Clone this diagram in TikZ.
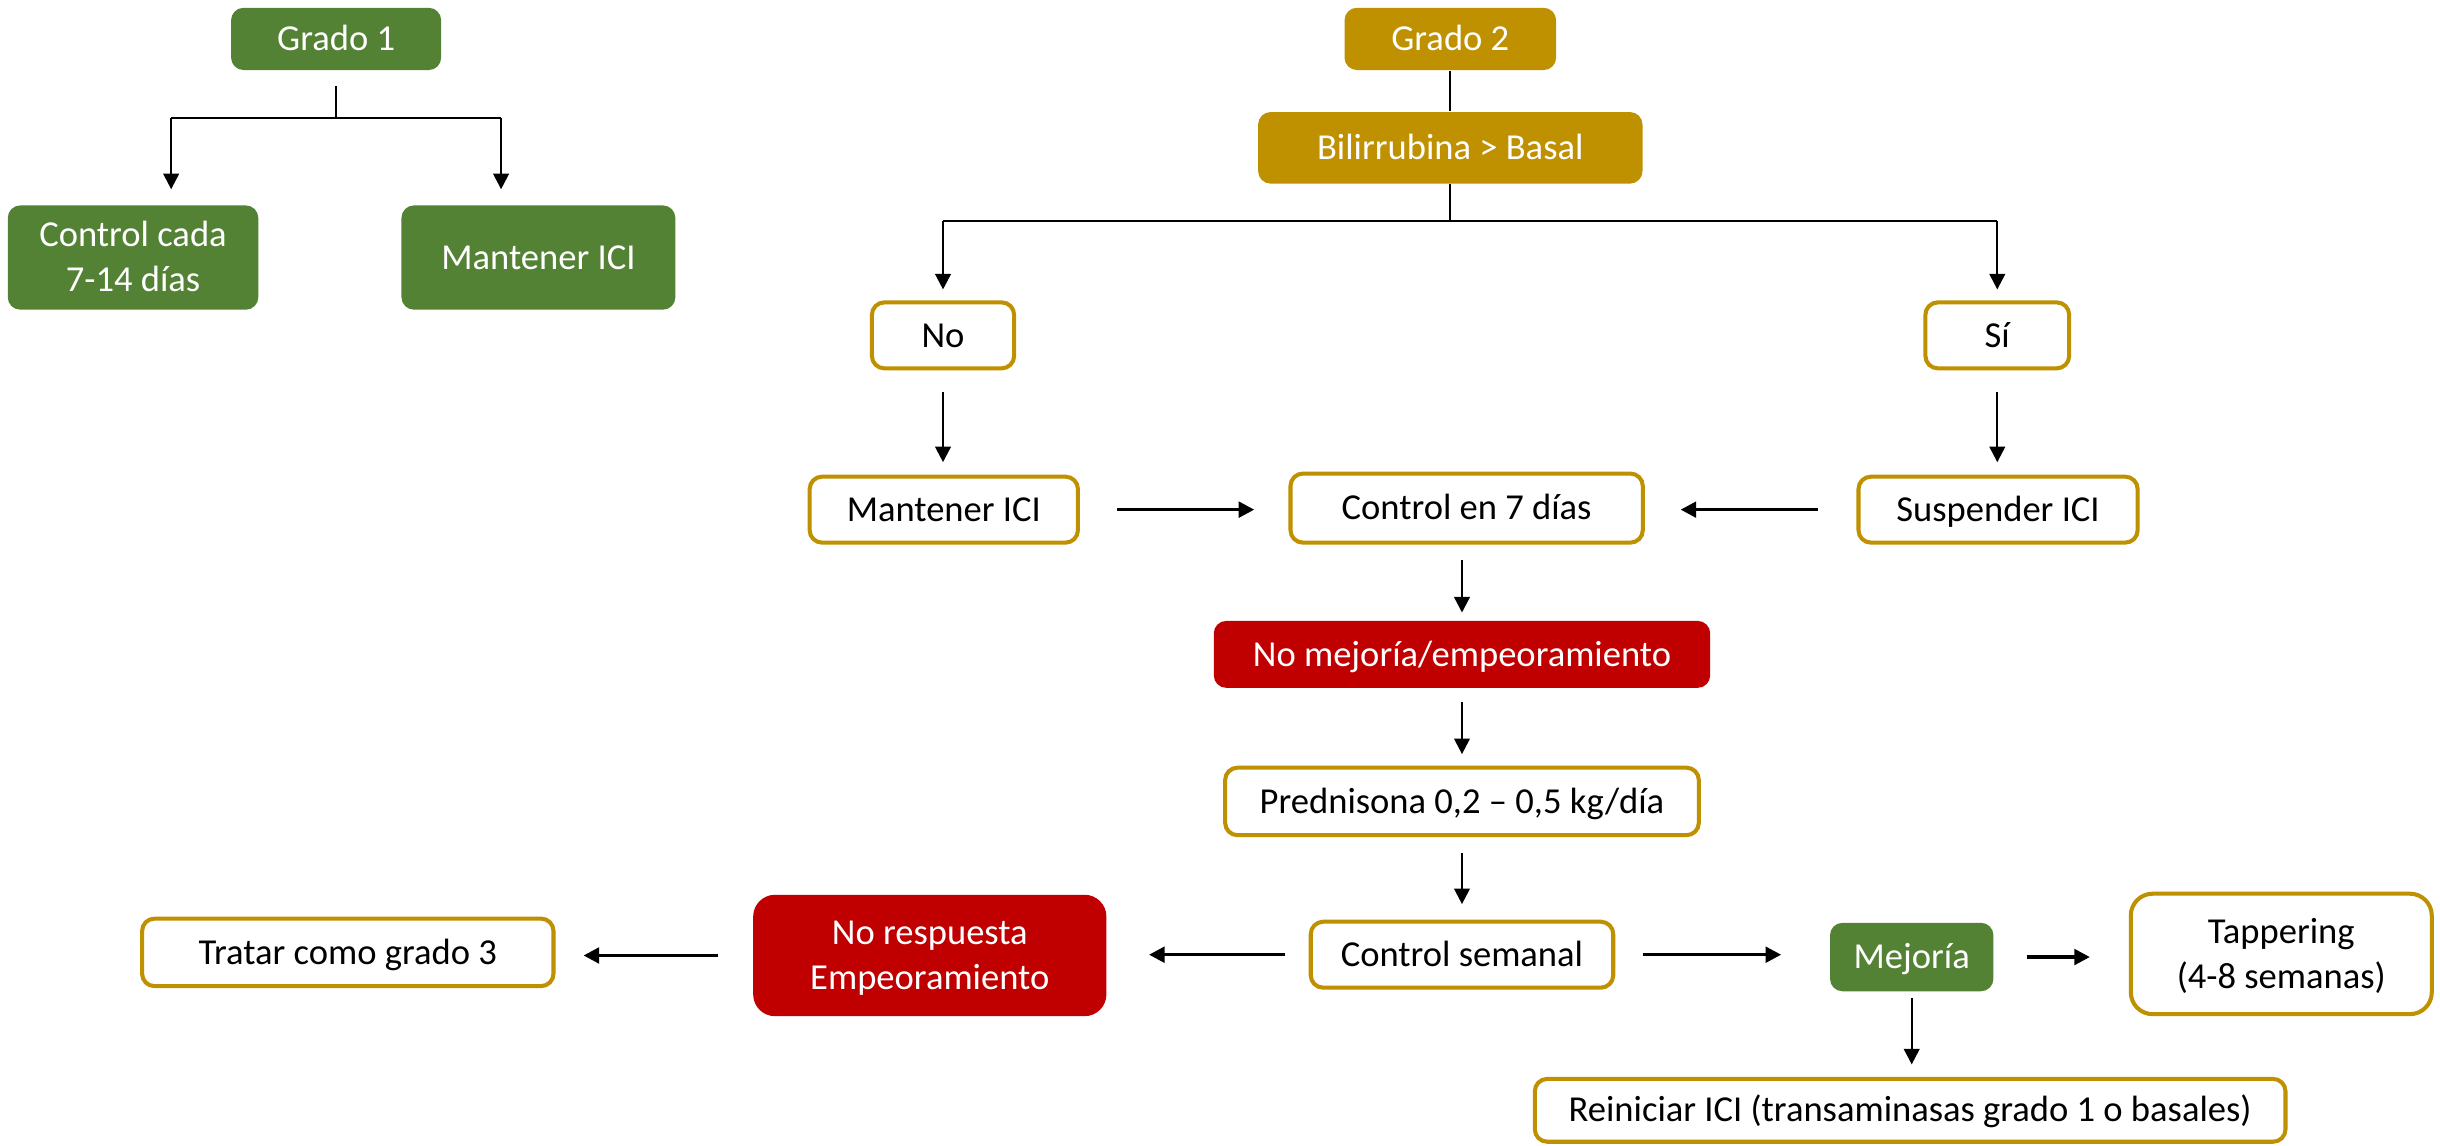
\documentclass[tikz,border=0pt]{standalone}
\usepackage{fontspec}
\setmainfont{Carlito}
\usetikzlibrary{arrows.meta,calc}
\definecolor{grn}{HTML}{548235}
\definecolor{gold}{HTML}{BF9000}
\definecolor{rd}{HTML}{C00000}

\begin{document}
\begin{tikzpicture}[x=0.5pt,y=-0.5pt,
  box/.style={rounded corners=4pt, inner sep=0pt, align=center,
    font=\fontsize{11.75}{14.5}\selectfont, text height=9.5pt, text depth=2pt},
  twoline/.style={text height=24pt, text depth=2pt},
  fillg/.style={box, fill=grn, text=white},
  fillo/.style={box, fill=gold, text=white},
  fillr/.style={box, fill=rd, text=white},
  outl/.style={box, draw=gold, line width=1.3pt, fill=white, text=black},
  tree/.style={line width=0.6pt},
  arr/.style={line width=0.75pt, -{Triangle[length=5pt,width=5pt]}},
  harr/.style={line width=1.1pt, -{Triangle[length=5pt,width=5pt]}},
]
\fill[white] (0,0) rectangle (1568,736);
\useasboundingbox (0,0) rectangle (1568,736);

% Grado 1 branch
\node[fillg, minimum width=67.5pt, minimum height=20pt] (g1) at (216,25) {Grado 1};
\node[fillg, twoline, minimum width=80.5pt, minimum height=33.5pt] (cc) at (85.5,165.5) {Control cada\\7-14 días};
\node[fillg, minimum width=88pt, minimum height=33.5pt] (mi1) at (346,165.5) {Mantener ICI};

% Grado 2 branch
\node[fillo, minimum width=68pt, minimum height=20pt] (g2) at (932,25) {Grado 2};
\node[fillo, minimum width=123.5pt, minimum height=23pt] (bili) at (932,95) {Bilirrubina > Basal};
\node[outl, minimum width=45.7pt, minimum height=21.2pt] (no) at (606,215.5) {No};
\node[outl, minimum width=46.2pt, minimum height=21.2pt] (si) at (1283.5,215.5) {Sí};
\node[outl, minimum width=86.2pt, minimum height=21.2pt] (mi2) at (606.5,327.5) {Mantener ICI};
\node[outl, minimum width=113.2pt, minimum height=22.2pt] (c7) at (942.5,326.5) {Control en 7 días};
\node[outl, minimum width=89.7pt, minimum height=21.2pt] (sus) at (1284,327.5) {Suspender ICI};
\node[fillr, minimum width=159.5pt, minimum height=21.5pt] (nm) at (939.5,420.5) {No mejoría/empeoramiento};
\node[outl, minimum width=152.2pt, minimum height=21.7pt] (pred) at (939.5,515) {Prednisona 0,2 – 0,5 kg/día};
\node[outl, minimum width=97.2pt, minimum height=21.2pt] (cs) at (939.5,613.5) {Control semanal};
\node[fillr, twoline, rounded corners=7pt, minimum width=113.5pt, minimum height=39pt] (nr) at (597.5,614) {No respuesta\\Empeoramiento};
\node[outl, minimum width=132.2pt, minimum height=21.7pt] (t3) at (223.5,612) {Tratar como grado 3};
\node[fillg, minimum width=52.5pt, minimum height=22pt] (mej) at (1228.5,615) {Mejoría};
\node[outl, twoline, rounded corners=7pt, minimum width=96.7pt, minimum height=38.7pt] (tap) at (1466,613) {Tappering\\(4-8 semanas)};
\node[outl, minimum width=241.2pt, minimum height=20.2pt] (rei) at (1227.5,713.5) {Reiniciar ICI (transaminasas grado 1 o basales)};

% Grado 1 split
\coordinate (g1j) at (216,76);
\coordinate (g1l) at (110,76);
\coordinate (g1r) at (322,76);
\draw[tree] ([yshift=-5pt]g1.south) -- (g1.south |- g1j);
\draw[tree] (g1l) -- (g1r);
\draw[arr, shorten >=5pt] (g1l) -- (g1l |- cc.north);
\draw[arr, shorten >=5pt] (g1r) -- (g1r |- mi1.north);

% Grado 2 split
\coordinate (b2j) at (932,142);
\draw[tree] (g2) -- (bili);
\draw[tree] (bili.south) -- (bili.south |- b2j);
\draw[tree] (b2j -| no.north) -- (b2j -| si.north);
\draw[arr, shorten >=3.5pt] (b2j -| no.north) -- (no.north);
\draw[arr, shorten >=3.5pt] (b2j -| si.north) -- (si.north);
\draw[arr, shorten <=7pt, shorten >=4pt] (no.south) -- (no.south |- mi2.north);
\draw[arr, shorten <=7pt, shorten >=4pt] (si.south) -- (si.south |- sus.north);

% Control flow
\draw[harr, shorten <=12pt, shorten >=11pt] (mi2.east) -- (mi2.east -| c7.west);
\draw[harr, shorten <=12.5pt, shorten >=11.5pt] (sus.west) -- (sus.west -| c7.east);
\draw[arr, shorten <=5pt, shorten >=2.5pt] (c7.south -| nm.north) -- (nm.north);
\draw[arr, shorten <=4.5pt, shorten >=3.7pt] (nm.south) -- (pred.north);
\draw[arr, shorten <=5pt, shorten >=5pt] (pred.south) -- (cs.north);
\draw[harr, shorten <=7.5pt, shorten >=13.5pt] (cs.west) -- (cs.west -| nr.east);
\draw[harr, shorten <=11pt, shorten >=9pt] (nr.west) -- (nr.west -| t3.east);
\draw[harr, shorten <=9pt, shorten >=15.5pt] (cs.east) -- (cs.east -| mej.west);
\draw[harr, shorten <=10.5pt, shorten >=12.5pt] (mej.east) -- (mej.east -| tap.west);
\draw[arr, shorten <=2pt, shorten >=4pt] (mej.south) -- (mej.south |- rei.north);
\end{tikzpicture}
\end{document}
